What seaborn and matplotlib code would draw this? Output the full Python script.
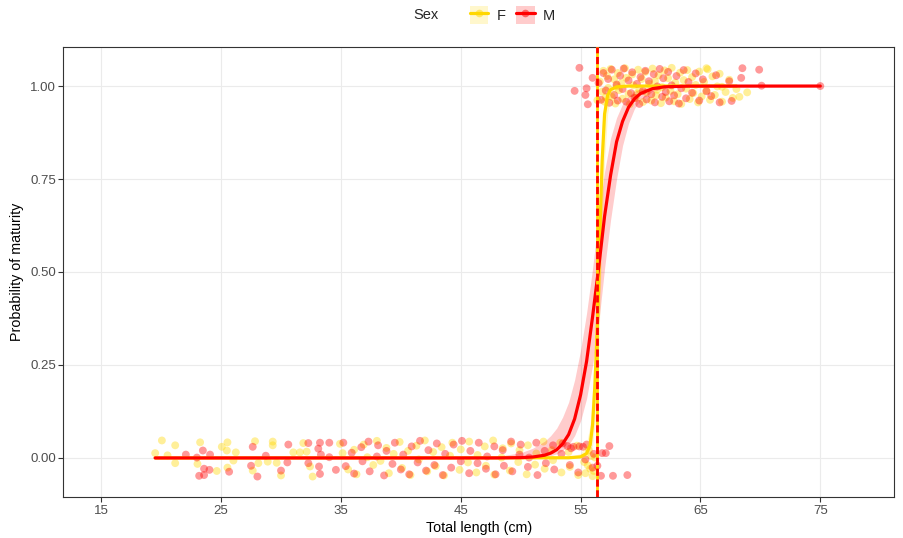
import matplotlib
matplotlib.use("Agg")
import matplotlib.pyplot as plt
from matplotlib.lines import Line2D
from matplotlib.patches import Patch
from matplotlib.legend_handler import HandlerTuple
from matplotlib.colors import to_rgba
import seaborn as sns
import pandas as pd

####### Data #######
# immature females (length, jittered position around 0)
f_imm_len = [20.06, 19.5, 21.17, 20.53, 21.17, 23.25, 23.03, 25.06, 25.48, 25.53, 26.23, 26.03, 24.64, 25.53,
             27.83, 29.31, 29.31, 28.11, 27.64, 28.89, 29.64, 30.0, 31.03, 31.58, 31.86, 32.14, 32.64, 32.42,
             34.92, 35.14, 35.6, 36.1, 36.3, 36.9, 37.2, 37.7, 38.0, 38.3, 38.8, 39.0, 39.4, 39.9, 40.1, 40.6,
             40.8, 41.3, 41.5, 42.0, 42.2, 42.7, 42.9, 43.4, 43.6, 44.1, 44.3, 44.9, 45.0, 45.6, 45.7, 46.3,
             46.4, 47.0, 47.1, 47.7, 47.8, 48.4, 48.5, 49.1, 49.2, 49.8, 49.9, 50.5, 50.6, 51.2, 51.3, 51.9,
             52.0, 52.6, 52.7, 53.3, 53.4, 54.0, 54.1, 54.7, 54.8, 55.3, 55.4, 55.7, 55.8, 56.0, 56.2, 55.6,
             56.1, 55.9]
f_imm_pos = [0.047, 0.013, 0.034, 0.007, -0.014, 0.042, -0.016, 0.030, 0.020, 0.042, 0.015, -0.007, -0.035, -0.026,
             0.045, 0.044, 0.034, -0.014, -0.034, -0.010, -0.013, -0.047, 0.015, 0.015, 0.040, 0.017, -0.050, -0.023,
             0.038, 0.013, -0.031, 0.022, -0.044, 0.036, 0.002, -0.019, 0.046, -0.008, 0.027, -0.041, 0.011, 0.043,
             -0.027, 0.019, -0.046, 0.033, -0.004, 0.047, -0.036, 0.016, -0.022, 0.029, -0.047, 0.006, 0.041, -0.032,
             0.023, -0.012, 0.044, -0.039, 0.008, 0.031, -0.021, 0.047, -0.045, 0.001, 0.026, -0.034, 0.039, -0.011,
             0.021, -0.044, 0.034, -0.018, 0.012, 0.044, -0.029, 0.021, -0.006, 0.041, -0.039, 0.016, -0.024, 0.033,
             -0.046, -0.011, -0.041, 0.021, -0.029, -0.049, 0.001, -0.020, -0.035, 0.005]

# immature males
m_imm_len = [22.06, 22.98, 23.48, 24.08, 23.58, 24.03, 23.17, 23.58, 25.67, 27.64, 27.5, 28.03, 28.73, 30.0,
             30.61, 30.53, 32.28, 33.25, 34.03, 33.11, 33.33, 32.28, 33.17, 33.25, 34.03, 34.58, 35.2, 35.4,
             35.9, 36.1, 36.7, 36.8, 37.3, 37.4, 38.0, 38.1, 38.6, 38.8, 39.3, 39.5, 40.0, 40.2, 40.7, 40.9,
             41.4, 41.6, 42.1, 42.3, 42.8, 43.0, 43.5, 43.7, 44.2, 44.4, 45.0, 45.1, 45.7, 45.8, 46.4, 46.5,
             47.1, 47.2, 47.8, 47.9, 48.5, 48.6, 49.2, 49.3, 49.9, 50.0, 50.6, 50.7, 51.3, 51.4, 52.0, 52.1,
             52.7, 52.8, 53.4, 53.5, 54.1, 54.2, 54.8, 54.9, 55.4, 55.5, 56.0, 56.1, 56.4, 56.7, 56.8, 57.1,
             57.4, 57.7, 58.9, 55.2, 54.4, 53.9]
m_imm_pos = [0.009, 0.001, 0.020, 0.009, -0.029, -0.032, -0.048, -0.046, -0.037, 0.030, -0.021, -0.050, 0.006, -0.034,
             0.036, -0.012, 0.040, 0.041, 0.041, 0.025, 0.009, -0.014, -0.023, -0.043, 0.002, -0.032, 0.041, -0.022,
             0.014, -0.042, 0.029, -0.009, 0.044, -0.036, 0.004, 0.034, -0.047, 0.019, -0.016, 0.041, -0.031, 0.009,
             -0.044, 0.031, -0.012, 0.046, -0.034, 0.021, -0.019, 0.039, -0.046, 0.011, -0.026, 0.036, -0.009, 0.046,
             -0.041, 0.019, -0.014, 0.041, -0.029, 0.004, 0.031, -0.044, 0.021, -0.021, 0.044, -0.036, 0.009, 0.036,
             -0.024, 0.001, 0.041, -0.046, 0.019, -0.014, 0.034, -0.031, 0.011, 0.039, -0.019, 0.026, -0.039, 0.031,
             -0.004, 0.036, -0.026, 0.011, -0.021, -0.048, 0.013, 0.013, 0.032, -0.048, -0.046, 0.030, 0.030, 0.032]

# mature females (position around 1)
f_mat_len = [56.4, 56.6, 56.8, 56.9, 57.0, 57.2, 57.3, 57.5, 57.6, 57.8, 57.9, 58.1, 58.2, 58.4, 58.5, 58.7,
             58.8, 59.0, 59.1, 59.3, 59.4, 59.6, 59.8, 59.9, 60.1, 60.2, 60.4, 60.5, 60.7, 60.9, 61.0, 61.2,
             61.3, 61.5, 61.7, 61.8, 62.0, 62.1, 62.3, 62.5, 62.6, 62.8, 62.9, 63.1, 63.3, 63.4, 63.6, 63.8,
             63.9, 64.1, 64.3, 64.4, 64.6, 64.8, 64.9, 65.1, 65.3, 65.5, 65.6, 65.8, 66.0, 66.2, 66.4, 66.6,
             66.8, 67.1, 67.4, 67.7, 68.0, 57.1, 58.0, 59.7, 61.4, 68.25, 68.9, 66.8, 65.5]
f_mat_pos = [0.962, 1.012, 0.985, 1.041, 0.958, 1.027, 0.995, 1.046, 0.971, 1.018, 0.953, 1.035, 0.989, 1.008, 0.966, 1.048,
             1.022, 0.979, 0.951, 1.031, 1.002, 0.968, 1.044, 0.991, 1.019, 0.957, 1.038, 0.983, 1.006, 0.961, 1.047, 1.013,
             0.975, 1.029, 0.954, 0.997, 1.042, 0.969, 1.021, 0.987, 1.049, 0.959, 1.009, 0.978, 1.036, 0.952, 1.016, 0.993,
             1.043, 0.965, 1.024, 0.981, 1.003, 0.956, 1.039, 0.972, 1.011, 0.988, 1.045, 0.963, 1.026, 0.976, 0.999, 1.033,
             0.958, 0.984, 1.017, 0.968, 0.992, 0.970, 1.000, 0.980, 0.990, 0.971, 0.983, 0.998, 1.048]

# mature males
m_mat_len = [54.9, 54.5, 55.5, 56.0, 55.6, 55.4, 68.5, 69.9, 70.1, 68.4, 67.4, 67.6, 66.6, 75.0,
             56.5, 56.7, 56.9, 57.1, 57.3, 57.4, 57.6, 57.8, 58.0, 58.1, 58.3, 58.5, 58.6, 58.8, 59.0, 59.2,
             59.3, 59.5, 59.7, 59.9, 60.0, 60.2, 60.4, 60.5, 60.7, 60.9, 61.1, 61.2, 61.4, 61.6, 61.8, 61.9,
             62.1, 62.3, 62.4, 62.6, 62.8, 63.0, 63.2, 63.4, 63.6, 63.8, 64.0, 64.3, 64.6, 64.9, 65.2, 65.5,
             65.9, 66.3]
m_mat_pos = [1.049, 0.987, 0.994, 1.022, 0.951, 0.976, 1.048, 1.044, 1.001, 1.022, 1.013, 0.960, 0.956, 1.000,
             1.008, 0.963, 1.035, 0.988, 1.019, 0.955, 1.044, 0.976, 1.004, 0.961, 1.028, 0.992, 1.047, 0.958, 1.015, 0.981,
             1.037, 0.968, 1.006, 0.952, 1.024, 0.987, 1.041, 0.964, 1.013, 0.978, 1.032, 0.956, 0.999, 1.046, 0.971, 1.021,
             0.984, 1.038, 0.959, 1.002, 0.975, 1.027, 0.953, 0.994, 1.043, 0.967, 1.011, 0.982, 1.034, 0.961, 1.018, 0.986,
             0.973, 1.029]

# fitted maturity ogives with confidence band
m_curve_len = [19.5, 45, 48, 50, 51, 52, 52.5, 53, 53.5, 54, 54.5, 55, 55.5, 56, 56.5, 57, 57.5, 58, 58.5, 59,
               59.5, 60, 61, 62, 64, 75]
m_curve_p = [0, 0.0, 0.0001, 0.0008, 0.0025, 0.0074, 0.013, 0.022, 0.038, 0.063, 0.105, 0.17, 0.26, 0.38, 0.51,
             0.65, 0.76, 0.85, 0.905, 0.943, 0.966, 0.98, 0.993, 0.998, 0.9998, 1.0]
m_curve_lo = [0, 0, 0, 0.0002, 0.0008, 0.003, 0.006, 0.011, 0.02, 0.035, 0.06, 0.10, 0.16, 0.25, 0.36, 0.51,
              0.64, 0.75, 0.84, 0.9, 0.94, 0.963, 0.986, 0.995, 0.9993, 1.0]
m_curve_hi = [0.0, 0.001, 0.004, 0.014, 0.026, 0.045, 0.06, 0.08, 0.11, 0.15, 0.21, 0.29, 0.39, 0.51, 0.65,
              0.77, 0.86, 0.915, 0.952, 0.973, 0.986, 0.992, 0.998, 0.9995, 1.0, 1.0]

f_curve_len = [19.5, 54, 55, 55.5, 55.8, 56.0, 56.2, 56.35, 56.5, 56.65, 56.8, 57.0, 57.25, 57.5, 58, 59, 68]
f_curve_p = [0, 0.0005, 0.003, 0.012, 0.035, 0.09, 0.2, 0.32, 0.45, 0.65, 0.8, 0.925, 0.975, 0.99, 0.998, 1.0, 1.0]
f_curve_lo = [0, 0, 0.0005, 0.003, 0.012, 0.035, 0.09, 0.17, 0.28, 0.45, 0.62, 0.8, 0.925, 0.965, 0.99, 0.999, 1.0]
f_curve_hi = [0, 0.003, 0.012, 0.04, 0.09, 0.19, 0.33, 0.47, 0.62, 0.79, 0.9, 0.965, 0.99, 0.997, 0.999, 1.0, 1.0]

# length at 50% maturity
l50_f = 56.38
l50_m = 56.38

sexes = ['F', 'M']
colors = {'F': '#FFD700', 'M': '#FF0000'}

####### Build point table #######
pts = pd.concat([
    pd.DataFrame({'length': f_imm_len + f_mat_len, 'pos': f_imm_pos + f_mat_pos, 'Sex': 'F'}),
    pd.DataFrame({'length': m_imm_len + m_mat_len, 'pos': m_imm_pos + m_mat_pos, 'Sex': 'M'}),
], ignore_index=True)

####### Plot #######
sns.set_theme(style="white")
plt.rcParams['font.family'] = ['Liberation Sans', 'DejaVu Sans']

fig = plt.figure(figsize=(9.04, 5.38), dpi=100)
ax = fig.add_axes([63.5 / 904, 41 / 538, (894 - 63.5) / 904, 450 / 538])

sns.scatterplot(data=pts, x='length', y='pos', hue='Sex', hue_order=sexes, palette=colors,
                s=32, alpha=0.4, edgecolor='none', legend=False, ax=ax, zorder=2)

ax.fill_between(f_curve_len, f_curve_lo, f_curve_hi, color=colors['F'], alpha=0.2, lw=0, zorder=3)
ax.fill_between(m_curve_len, m_curve_lo, m_curve_hi, color=colors['M'], alpha=0.2, lw=0, zorder=3)
sns.lineplot(x=f_curve_len, y=f_curve_p, color=colors['F'], lw=2.3, ax=ax, zorder=4)
sns.lineplot(x=m_curve_len, y=m_curve_p, color=colors['M'], lw=2.3, ax=ax, zorder=5)

ax.axvline(l50_f, color=colors['F'], lw=2, zorder=6)
ax.axvline(l50_m, color=colors['M'], lw=2, ls=(0, (2.6, 1.3)), zorder=7)

ax.set_xlim(11.85, 81.15)
ax.set_ylim(-0.105, 1.105)
ax.set_xticks([15, 25, 35, 45, 55, 65, 75])
ax.set_yticks([0, 0.25, 0.5, 0.75, 1.0])
ax.set_yticklabels(['0.00', '0.25', '0.50', '0.75', '1.00'])
ax.grid(True, color='#EBEBEB', lw=0.8)
ax.set_axisbelow(True)
for sp in ax.spines.values():
    sp.set_color('#333333')
    sp.set_linewidth(0.8)
ax.tick_params(axis='both', direction='out', length=3.5, width=0.8, color='#333333',
               labelcolor='#4D4D4D', labelsize=9.5, pad=2, bottom=True, left=True)
ax.set_xlabel('Total length (cm)', fontsize=10.3, color='black', labelpad=3)
ax.set_ylabel('Probability of maturity', fontsize=10.3, color='black', labelpad=4)

# legend on top
handles = [(Patch(facecolor=colors[s], alpha=0.2, edgecolor='none'),
            Line2D([], [], color=colors[s], lw=2.3, marker='o', ms=5.5,
                   markerfacecolor=to_rgba(colors[s], 0.5), markeredgecolor='none'))
           for s in sexes]
fig.text(0.457, 0.972, 'Sex', fontsize=10.5, ha='left', va='center')
fig.legend(handles, sexes, handler_map={tuple: HandlerTuple(ndivide=1, pad=0)},
           loc='center left', bbox_to_anchor=(0.512, 0.972), ncol=2, frameon=False,
           fontsize=10.5, handlelength=1.25, handleheight=1.5, columnspacing=0.75, handletextpad=0.55,
           borderpad=0)

fig.savefig('out.png', dpi=100)
